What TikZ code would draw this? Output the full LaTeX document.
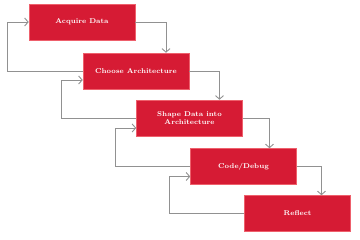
\documentclass[tikz,border=0pt]{standalone}
\usepackage{tikz}
\usetikzlibrary{positioning,arrows.meta}
\definecolor{stepred}{RGB}{214,27,52}
\definecolor{stepedge}{RGB}{238,96,108}
\definecolor{wire}{RGB}{145,145,145}
\tikzset{
  stage/.style={draw=stepedge, fill=stepred, minimum width=106pt, minimum height=36pt,
    inner sep=0pt, align=center, text=white, line width=0.5pt,
    font=\fontsize{7}{7.2}\selectfont\bfseries},
  fwd/.style={-{Straight Barb[length=3.5pt,width=8pt]}, line width=0.9pt, draw=wire},
  back/.style={-{Straight Barb[length=3.5pt,width=8pt]}, line width=0.9pt, draw=wire},
}

\begin{document}
\begin{tikzpicture}[x=1pt,y=-1pt]
  \useasboundingbox (0,0) rectangle (360,240);
  % the five stages, stepping down to the right
  \node[stage] (b1) at (82,22) {Acquire Data};
  \node[stage] (b2) at (136,71) {Choose Architecture};
  \node[stage] (b3) at (189.5,118) {Shape Data into\\Architecture};
  \node[stage] (b4) at (243.5,166.5) {Code/Debug};
  \node[stage] (b5) at (297.5,213.5) {Reflect};
  % forward steps on the right
  \foreach \a/\b/\s in {b1/b2/30, b2/b3/30, b3/b4/26, b4/b5/24}
    \draw[fwd] (\a.east) -| ([xshift=\s pt]\b.north);
  % loops back on the left
  \foreach \a/\b/\d in {b1/b2/0, b2/b3/9, b3/b4/10, b4/b5/10}
    \draw[back] (\b.west) -| ([xshift=-21pt,yshift=-\d pt]\a.west)
      -- ([yshift=-\d pt]\a.west);
\end{tikzpicture}
\end{document}
